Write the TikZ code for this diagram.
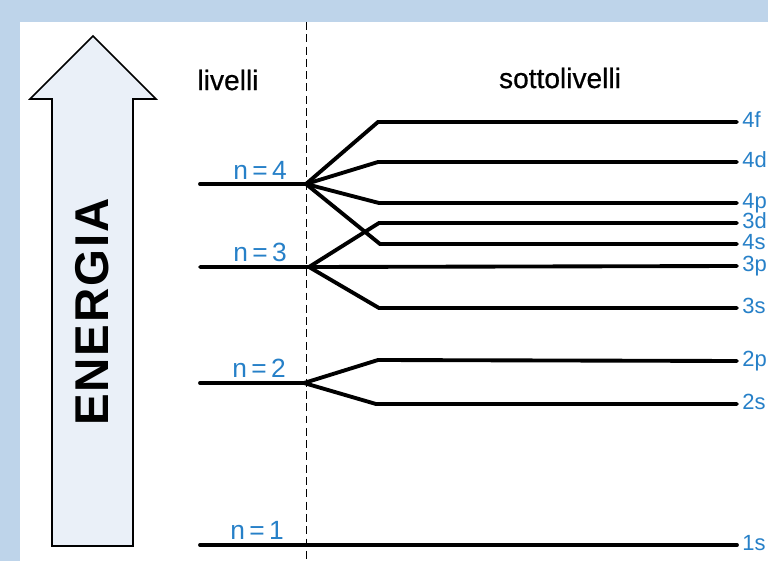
\documentclass[tikz,border=0pt]{standalone}
\usepackage{fontspec}
\setmainfont{Liberation Sans}
\usepackage{tikz}
\usetikzlibrary{positioning}

\definecolor{frameblue}{RGB}{190,212,234}
\definecolor{arrowfill}{RGB}{234,240,248}
\definecolor{levblue}{RGB}{38,128,200}
\newcommand{\levfont}{\fontsize{15}{17}\selectfont}
\newcommand{\subfont}{\fontsize{12.5}{14}\selectfont}
\newcommand{\headfont}{\fontsize{16}{18}\selectfont\addfontfeature{FakeBold=0.6}}

\begin{document}
\begin{tikzpicture}[x=0.02cm,y=-0.02cm,line width=2.2pt,line cap=round,
    lvl/.style={text=levblue,font=\levfont,inner sep=0pt,anchor=base},
    sub/.style={text=levblue,font=\subfont,inner xsep=2pt,inner ysep=0pt,
      text height=1.4ex,text depth=0.2ex,anchor=west},
    head/.style={font=\headfont,inner sep=0pt}]
	  \useasboundingbox (0,0) rectangle (768,561);
	  \fill[frameblue] (0,0) rectangle (768,561);
	  \fill[white] (20,22) rectangle (768,561);
	  % energy arrow
	  \draw[fill=arrowfill,line width=0.9pt,line cap=butt,line join=miter]
	    (52,546) -- (52,99) -- (30,99) -- (93,36) -- (156,99) -- (133,99) -- (133,546) -- cycle;
	  \node[rotate=90,font=\fontsize{27}{30}\selectfont\bfseries\addfontfeature{LetterSpace=4}] (energia) at (92,312) {ENERGIA};
	  \node[head] (liv) at (228,80) {livelli};
	  \node[head] (sotto) at (560,78) {sottolivelli};
	  % divider
	  \coordinate (dtop) at (306,22);
	  \coordinate (dbot) at (306,561);
	  \draw[line width=0.5pt,line cap=butt,dash pattern=on 4.5pt off 2.5pt] (dtop) -- (dbot);
	  % levels
	  \coordinate (n4s) at (200,184);
	  \coordinate (n4)  at (306,184);
	  \coordinate (n3s) at (200,267);
	  \coordinate (n3)  at (309,267);
	  \coordinate (n2s) at (200,383);
	  \coordinate (n2)  at (304,383);
	  \coordinate (n1s) at (200,545);
	  \node[lvl] (l4) at (260,179) {n\,=\,4};
	  \node[lvl] (l3) at (260,261) {n\,=\,3};
	  \node[lvl] (l2) at (259,377) {n\,=\,2};
	  \node[lvl] (l1) at (257,539) {n\,=\,1};
	  % sublevels
	  \coordinate (4f-a) at (378,122);
	  \coordinate (4d-a) at (378,162);
	  \coordinate (4p-a) at (379,203);
	  \coordinate (3d-a) at (379,223);
	  \coordinate (4s-a) at (380,244);
	  \coordinate (3s-a) at (379,308);
	  \coordinate (2p-a) at (378,360);
	  \coordinate (2s-a) at (376,404);
	  \node[sub] (4f) at (737,122) {4f};
	  \node[sub] (4d) at (737,162) {4d};
	  \node[sub] (4p) at (737,203) {4p};
	  \node[sub] (3d) at (737,223) {3d};
	  \node[sub] (4s) at (737,244) {4s};
	  \node[sub] (3p) at (737,266) {3p};
	  \node[sub] (3s) at (737,308) {3s};
	  \node[sub] (2p) at (737,361) {2p};
	  \node[sub] (2s) at (737,404) {2s};
	  \node[sub] (1s) at (737,545) {1s};
	  \draw (n4s) -- (n4);
	  \draw (n4) -- (4f-a) -- (4f.west);
	  \draw (n4) -- (4d-a) -- (4d.west);
	  \draw (n4) -- (4p-a) -- (4p.west);
	  \draw (n4) -- (4s-a) -- (4s.west);
	  \draw (n3s) -- (n3) -- (3p.west);
	  \draw (n3) -- (3d-a) -- (3d.west);
	  \draw (n3) -- (3s-a) -- (3s.west);
	  \draw (n2s) -- (n2);
	  \draw (n2) -- (2p-a) -- (2p.west);
	  \draw (n2) -- (2s-a) -- (2s.west);
	  \draw (n1s) -- (1s.west);
	\end{tikzpicture}
\end{document}
